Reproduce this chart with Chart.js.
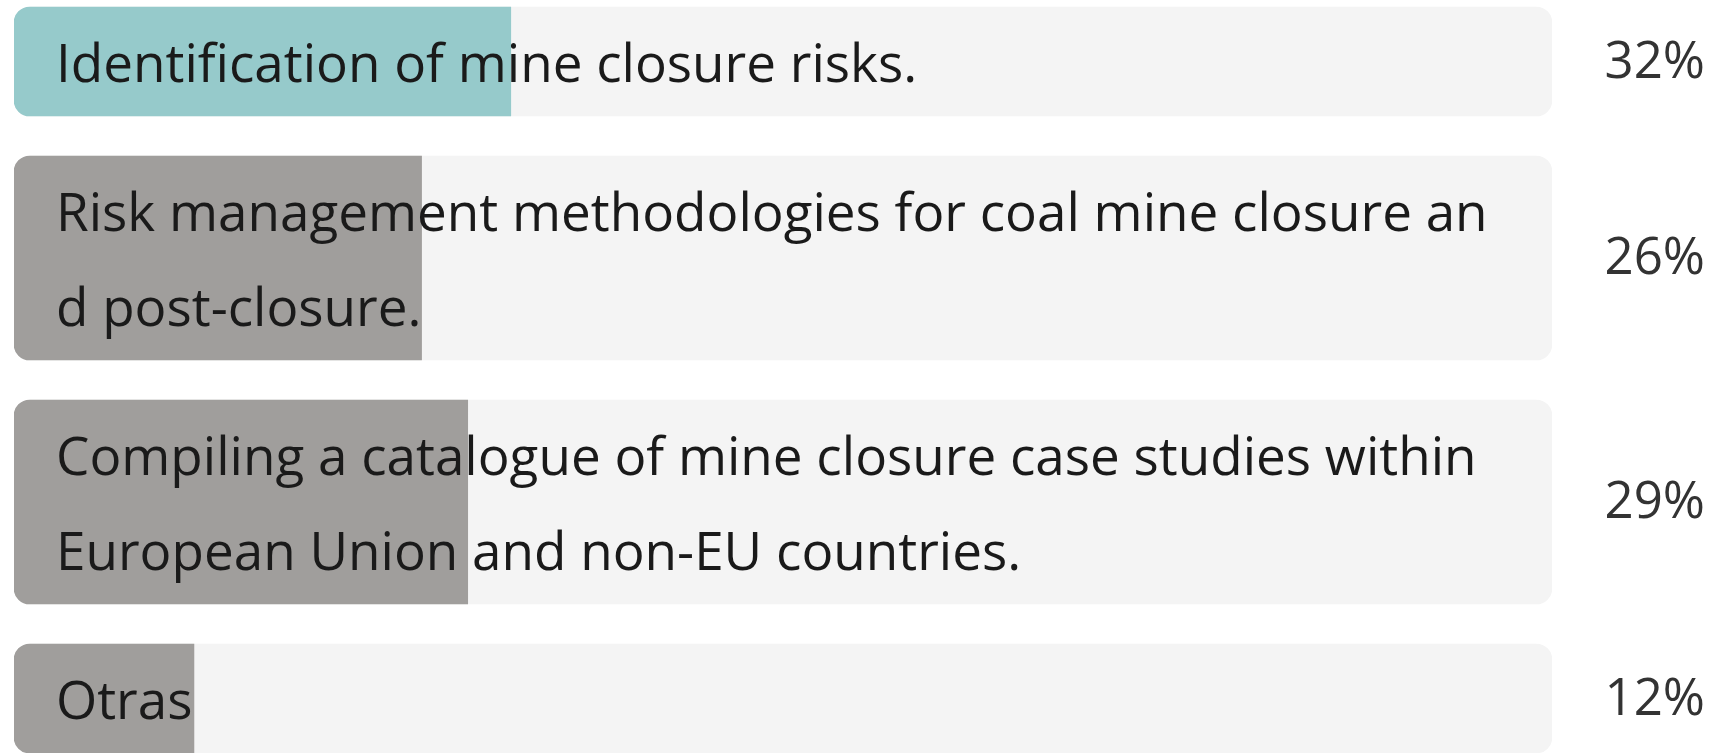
<!DOCTYPE html>
<html>
<head>
<meta charset="utf-8">
<script src="https://cdn.jsdelivr.net/npm/chart.js@4/dist/chart.umd.min.js"></script>
<style>
  html, body { margin: 0; padding: 0; background: #fff; }
  canvas { display: block; }
</style>
</head>
<body>
<canvas id="chart" width="1715" height="753"></canvas>
<script>
// survey answers, each label already split into its display lines
const categories = [
  ['Identification of mine closure risks.'],
  ['Risk management methodologies for coal mine closure an', 'd post-closure.'],
  ['Compiling a catalogue of mine closure case studies within', 'European Union and non-EU countries.'],
  ['Otras']
];
const shares = [32.3, 26.5, 29.5, 11.7];
const shareLabels = ['32%', '26%', '29%', '12%'];
const trackMax = 100;

const fillColors = ['#96cacb', '#a09e9c', '#a09e9c', '#a09e9c'];
const trackColor = '#f4f4f4';

// row layout: each row grows with its number of text lines
const lineHeight = 95;
const rowPad = 14;
const rowGap = 40;
const firstTop = 7;

const rows = [];
let rowTop = firstTop;
categories.forEach((lines) => {
  const h = rowPad + lineHeight * lines.length;
  rows.push({ center: rowTop + h / 2, height: h });
  rowTop += h + rowGap;
});

const datasets = [];
rows.forEach((row, i) => {
  datasets.push({
    data: [{ x: trackMax, y: row.center }],
    backgroundColor: trackColor,
    barThickness: row.height,
    grouped: false,
    borderRadius: 16,
    borderSkipped: false,
    order: 1
  });
  datasets.push({
    data: [{ x: shares[i], y: row.center }],
    backgroundColor: fillColors[i],
    barThickness: row.height,
    grouped: false,
    borderRadius: 16,
    borderSkipped: 'end',
    order: 0
  });
});

const textPlugin = {
  id: 'rowText',
  afterDatasetsDraw(chart) {
    const { ctx } = chart;
    const yScale = chart.scales.y;
    ctx.save();
    rows.forEach((row, i) => {
      const cy = yScale.getPixelForValue(row.center);
      const lines = categories[i];
      ctx.font = '53px "Open Sans", "Noto Sans", sans-serif';
      ctx.fillStyle = '#1a1a1a';
      ctx.textAlign = 'left';
      ctx.textBaseline = 'alphabetic';
      lines.forEach((line, j) => {
        const y = cy + (j - (lines.length - 1) / 2) * lineHeight + 20;
        ctx.fillText(line, 56, y);
      });
      ctx.font = '51px "Open Sans", "Noto Sans", sans-serif';
      ctx.fillStyle = '#333';
      ctx.textAlign = 'right';
      ctx.fillText(shareLabels[i], 1705, cy + 16);
    });
    ctx.restore();
  }
};

new Chart(document.getElementById('chart'), {
  type: 'bar',
  data: { datasets },
  options: {
    indexAxis: 'y',
    responsive: false,
    animation: false,
    layout: { padding: { left: 14, right: 163, top: 0, bottom: 0 } },
    scales: {
      x: { type: 'linear', min: 0, max: trackMax, display: false },
      y: { type: 'linear', min: 0, max: 753, reverse: true, offset: false, display: false }
    },
    plugins: {
      legend: { display: false },
      tooltip: { enabled: false }
    }
  },
  plugins: [textPlugin]
});
</script>
</body>
</html>
